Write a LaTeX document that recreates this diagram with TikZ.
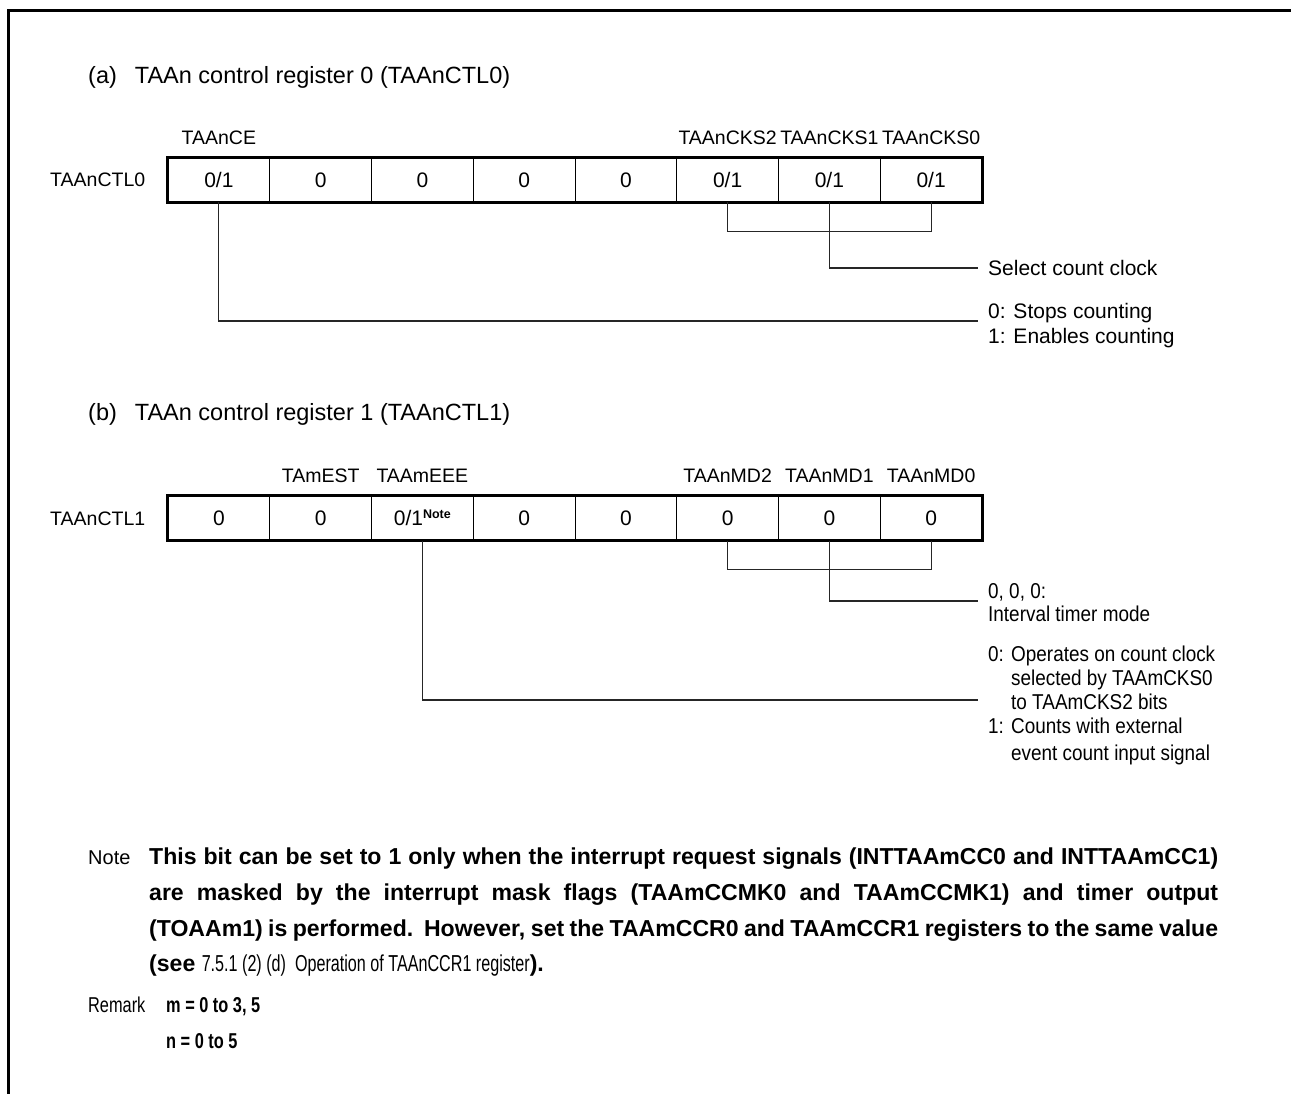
\documentclass[tikz,border=0pt]{standalone}
\usepackage{fontspec}
\usetikzlibrary{calc}
\setmainfont{Liberation Sans}
\newfontfamily\condfont[FakeStretch=0.76]{Liberation Sans}
\newfontfamily\descfont[FakeStretch=0.88]{Liberation Sans}
\newfontfamily\narrowfont[FakeStretch=0.70]{Liberation Sans}
\newlength\noteW
\AtBeginDocument{%
  \settowidth\noteW{\fontsize{20}{24}\selectfont\bfseries This bit can be set to 1 only when the interrupt request signals (INTTAAmCC0 and INTTAAmCC1)}%
  \pgfmathsetmacro\noteSz{20*(1060pt/\noteW)}%
}
\begin{document}
\begin{tikzpicture}[x=1pt,y=-1pt,
  ttl/.style={font=\fontsize{23.5}{28}\selectfont, inner sep=0pt, anchor=base west},
  txt/.style={font=\fontsize{21}{25}\selectfont, inner sep=0pt, anchor=base west},
  rtxt/.style={font=\fontsize{19.5}{24}\selectfont, inner sep=0pt, anchor=base west},
  ctxt/.style={font=\fontsize{19.5}{24}\selectfont, inner sep=0pt, anchor=base},
  stxt/.style={font=\descfont\fontsize{21.5}{24}\selectfont, inner sep=0pt, anchor=base west},
  ntxt/.style={font=\fontsize{20}{24}\selectfont, inner sep=0pt, anchor=base west},
  btxt/.style={font=\fontsize{\noteSz}{36}\selectfont\bfseries, inner sep=0pt, anchor=base west},
  rmtxt/.style={font=\condfont\fontsize{21.5}{24}\selectfont, inner sep=0pt, anchor=base west},
  rmbtxt/.style={font=\condfont\fontsize{21.5}{24}\selectfont\bfseries, inner sep=0pt, anchor=base west},
  cell/.style={draw, line width=1pt, minimum width=101.75pt, minimum height=44pt, inner sep=0pt, font=\fontsize{21}{25}\selectfont},
  regbox/.style={draw, line width=3pt},
  conn/.style={draw, line width=1.2pt, color=black!85},
  frame/.style={draw, line width=3.5pt}
]
\useasboundingbox (0,0) rectangle (1291,1094);
% frame
\draw[frame] (8.5,1094) -- (8.5,10.5) -- (1291,10.5);

% ---------- (a) ----------
\node[ttl] (ta) at (88,83.5) {(a)\hspace{18pt}TAAn control register 0 (TAAnCTL0)};
\node[rtxt] (rna) at (50,187) {TAAnCTL0};
\foreach \i/\v in {1/0\slash 1,2/0,3/0,4/0,5/0,6/0\slash 1,7/0\slash 1,8/0\slash 1}{
  \node[cell] (a\i) at ({168+(\i-0.5)*101.75},180) {\v};
}
\draw[regbox] (a1.north west) rectangle (a8.south east);
\node[ctxt] (la1) at ($(a1.north)+(0,-13)$) {TAAnCE};
\node[ctxt] (la6) at ($(a6.north)+(0,-13)$) {TAAnCKS2};
\node[ctxt] (la7) at ($(a7.north)+(0,-13)$) {TAAnCKS1};
\node[ctxt] (la8) at ($(a8.north)+(0,-13)$) {TAAnCKS0};

\coordinate (ea1) at (978,268);
\coordinate (ea2) at (978,321);
\draw[conn] (a6.south) -- ++(0,29) -| (a8.south);
\draw[conn] (a7.south) |- (ea1);
\draw[conn] (a1.south) |- (ea2);
\node[txt] (da1) at (988,275.5) {Select count clock};
\node[txt] (da2) at (988,318.5) {0: Stops counting};
\node[txt] (da3) at (988,343.5) {1: Enables counting};

% ---------- (b) ----------
\node[ttl] (tb) at (88,420.5) {(b)\hspace{18pt}TAAn control register 1 (TAAnCTL1)};
\node[rtxt] (rnb) at (50,525) {TAAnCTL1};
\foreach \i/\v in {1/0,2/0,4/0,5/0,6/0,7/0,8/0}{
  \node[cell] (b\i) at ({168+(\i-0.5)*101.75},518) {\v};
}
\node[cell] (b3) at ({168+2.5*101.75},518) {0/1\raisebox{7pt}{\fontsize{12.5}{13}\selectfont\bfseries Note}\hspace{14pt}};
\draw[regbox] (b1.north west) rectangle (b8.south east);
\node[ctxt] (lb2) at ($(b2.north)+(0,-13)$) {TAmEST};
\node[ctxt] (lb3) at ($(b3.north)+(0,-13)$) {TAAmEEE};
\node[ctxt] (lb6) at ($(b6.north)+(0,-13)$) {TAAnMD2};
\node[ctxt] (lb7) at ($(b7.north)+(0,-13)$) {TAAnMD1};
\node[ctxt] (lb8) at ($(b8.north)+(0,-13)$) {TAAnMD0};

\coordinate (eb1) at (978,601);
\coordinate (eb2) at (978,700);
\draw[conn] (b6.south) -- ++(0,29) -| (b8.south);
\draw[conn] (b7.south) |- (eb1);
\draw[conn] (b3.south) |- (eb2);
\node[stxt] (db1) at (988,598) {0, 0, 0:};
\node[stxt] (db2) at (988,621) {Interval timer mode};
\node[stxt] (db3) at (988,661) {0:};
\node[stxt] (db4) at (1011,661) {Operates on count clock};
\node[stxt] (db5) at (1011,685) {selected by TAAmCKS0};
\node[stxt] (db6) at (1011,709) {to TAAmCKS2 bits};
\node[stxt] (db7) at (988,733) {1:};
\node[stxt] (db8) at (1011,733) {Counts with external};
\node[stxt] (db9) at (1011,760) {event count input signal};

% ---------- Note ----------
\node[ntxt] (nl) at (88,864) {Note};
\node[btxt] (n1) at (149,864) {\makebox[1069pt][s]{This bit can be set to 1 only when the interrupt request signals (INTTAAmCC0 and INTTAAmCC1)}};
\node[btxt] (n2) at (149,900) {\makebox[1069pt][s]{are masked by the interrupt mask flags (TAAmCCMK0 and TAAmCCMK1) and timer output}};
\node[btxt] (n3) at (149,936) {\makebox[1069pt][s]{(TOAAm1) is performed.\ \ However, set the TAAmCCR0 and TAAmCCR1 registers to the same value}};
\node[btxt] (n4) at (149,971) {(see {\mdseries\narrowfont 7.5.1 (2) (d)\ \ Operation of TAAnCCR1 register}).};

% ---------- Remark ----------
\node[rmtxt] (rl) at (88,1012) {Remark};
\node[rmbtxt] (r1) at (166,1012) {m = 0 to 3, 5};
\node[rmbtxt] (r2) at (166,1048) {n = 0 to 5};
\end{tikzpicture}
\end{document}
